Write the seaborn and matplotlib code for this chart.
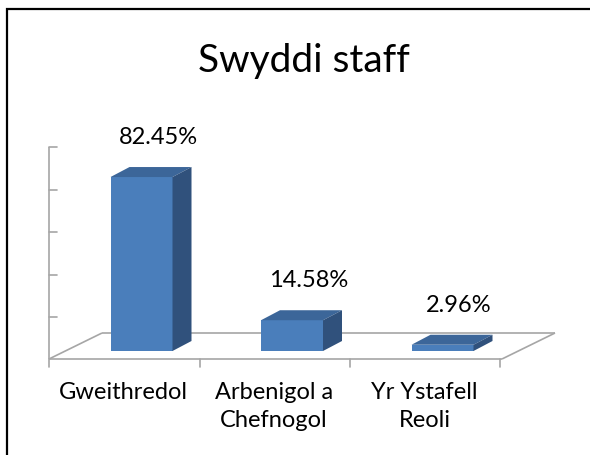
import matplotlib
matplotlib.use("Agg")
import matplotlib.pyplot as plt
from matplotlib.patches import Polygon, Rectangle
import seaborn as sns
import pandas as pd

# ---- data ----
categories = ["Gweithredol", "Arbenigol a\nChefnogol", "Yr Ystafell\nReoli"]
values = [82.45, 14.58, 2.96]
value_labels = ["82.45%", "14.58%", "2.96%"]
title = "Swyddi staff"

# ---- style ----
FRONT = "#4A7EBB"
TOP = "#3C6699"
SIDE = "#30517C"
GRID = "#A6A6A6"
FONT = ["Lato", "DejaVu Sans"]

sns.set_theme(style="white")
plt.rcParams["font.family"] = FONT

W, H = 590, 456
fig = plt.figure(figsize=(W / 100, H / 100), dpi=100)

# axes placement (pixels)
L, R, T, B = 40, 570, 100, 370
ax = fig.add_axes([L / W, 1 - B / H, (R - L) / W, (B - T) / H])

# pixel <-> data mapping used for the 3D decorations
X0PIX, XSCALE = 141.5, 150.5
Y0PIX, YSCALE = 352.0, 2.11


def px2x(p):
    return (p - X0PIX) / XSCALE


def px2y(p):
    return (Y0PIX - p) / YSCALE


df = pd.DataFrame({"cat": categories, "val": values})
sns.barplot(data=df, x="cat", y="val", width=62 / XSCALE, color=FRONT,
            saturation=1, ax=ax, zorder=3, edgecolor="none", linewidth=0)

ax.set_xlim(px2x(L), px2x(R))
ax.set_ylim(px2y(B), px2y(T))

# 3D depth for bars
dx = 19 / XSCALE
dy = 10 / YSCALE
for p in list(ax.patches):
    x0 = p.get_x()
    w = p.get_width()
    h = p.get_height()
    top = Polygon([(x0, h), (x0 + w, h), (x0 + w + dx, h + dy), (x0 + dx, h + dy)],
                  closed=True, facecolor=TOP, edgecolor="none", zorder=3)
    side = Polygon([(x0 + w, 0), (x0 + w + dx, dy), (x0 + w + dx, h + dy), (x0 + w, h)],
                   closed=True, facecolor=SIDE, edgecolor="none", zorder=3)
    ax.add_patch(top)
    ax.add_patch(side)

# floor and axes (layout decorations)
lw = 1.2
fl = [((49, 360), (502, 360)), ((102, 334), (555, 334)),
      ((49, 360), (102, 334)), ((502, 360), (555, 334)),
      ((49, 148), (49, 360))]
for (a, b) in fl:
    ax.plot([px2x(a[0]), px2x(b[0])], [px2y(a[1]), px2y(b[1])],
            color=GRID, lw=lw, zorder=1, solid_capstyle="butt")
for ty in [148, 191, 233, 276, 318]:
    ax.plot([px2x(49), px2x(57)], [px2y(ty), px2y(ty)], color=GRID, lw=lw, zorder=1)
for tx in [49, 200, 350, 500]:
    ax.plot([px2x(tx), px2x(tx)], [px2y(360), px2y(368)], color=GRID, lw=lw, zorder=1)

# value labels
for i, (v, lab) in enumerate(zip(values, value_labels)):
    ax.text(i + 0.11, v + 16.2, lab, ha="center", va="baseline",
            fontsize=17, color="black", family=FONT, zorder=5)

# category labels
ax.set_xticks([i - 0.12 for i in range(len(categories))])
ax.set_xticklabels(categories, fontsize=17, linespacing=1.4, color="black")
ax.tick_params(axis="x", length=0, pad=9)
ax.set_yticks([])
ax.set_xlabel("")
ax.set_ylabel("")
for s in ax.spines.values():
    s.set_visible(False)
ax.patch.set_alpha(0)

# title
fig.text(304 / W, 1 - 72 / H, title, ha="center", va="baseline",
         fontsize=28, color="black", family=FONT)

# chart border
fig.patches.append(Rectangle((7 / W, -0.05), 1.2, 1 - 10 / H + 0.05,
                             transform=fig.transFigure, fill=False,
                             edgecolor="black", lw=1.6, zorder=10))

fig.savefig("out.png", dpi=100)
